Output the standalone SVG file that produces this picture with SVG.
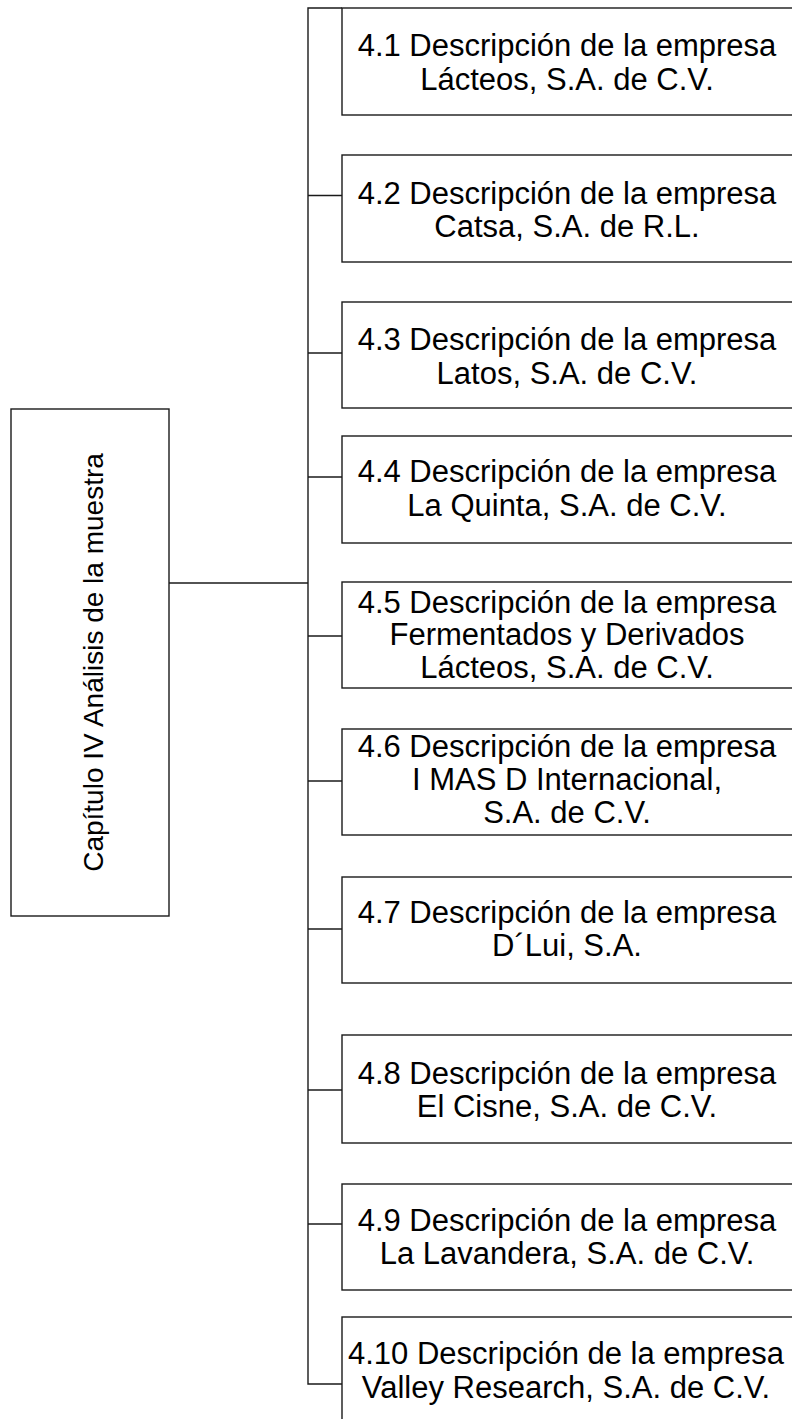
<svg xmlns="http://www.w3.org/2000/svg" width="792" height="1419" viewBox="0 0 792 1419">
<style>
.box{fill:#ffffff;stroke:#1a1a1a;stroke-width:1.4}
.ln{fill:none;stroke:#1a1a1a;stroke-width:1.4}
.t{font-family:"Liberation Sans",Arial,sans-serif;font-size:31px;fill:#000;text-anchor:middle}
.tm{font-family:"Liberation Sans",Arial,sans-serif;font-size:28px;fill:#000;text-anchor:middle}
</style>
<rect width="792" height="1419" fill="#ffffff"/>
<g id="connectors">
<path class="ln" d="M169,583 H308"/>
<path class="ln" d="M342,8 H308 V1384 H342"/>
<path class="ln" d="M308,195.5 H342"/>
<path class="ln" d="M308,353 H342"/>
<path class="ln" d="M308,477 H342"/>
<path class="ln" d="M308,636 H342"/>
<path class="ln" d="M308,781 H342"/>
<path class="ln" d="M308,929 H342"/>
<path class="ln" d="M308,1090 H342"/>
<path class="ln" d="M308,1224 H342"/>
</g>
<g id="main">
<rect class="box" x="11" y="409" width="158" height="507"/>
<text class="tm" transform="translate(103,662.5) rotate(-90)">Capítulo IV Análisis de la muestra</text>
</g>
<g id="n41">
<rect class="box" x="342" y="8" width="470" height="107"/>
<text class="t" x="567" y="56">4.1 Descripción de la empresa</text>
<text class="t" x="567" y="90">Lácteos, S.A. de C.V.</text>
</g>
<g id="n42">
<rect class="box" x="342" y="155" width="470" height="107"/>
<text class="t" x="567" y="204">4.2 Descripción de la empresa</text>
<text class="t" x="567" y="237">Catsa, S.A. de R.L.</text>
</g>
<g id="n43">
<rect class="box" x="342" y="302" width="470" height="106"/>
<text class="t" x="567" y="350">4.3 Descripción de la empresa</text>
<text class="t" x="567" y="384">Latos, S.A. de C.V.</text>
</g>
<g id="n44">
<rect class="box" x="342" y="436" width="470" height="107"/>
<text class="t" x="567" y="482">4.4 Descripción de la empresa</text>
<text class="t" x="567" y="516">La Quinta, S.A. de C.V.</text>
</g>
<g id="n45">
<rect class="box" x="342" y="582" width="470" height="106"/>
<text class="t" x="567" y="613">4.5 Descripción de la empresa</text>
<text class="t" x="567" y="645">Fermentados y Derivados</text>
<text class="t" x="567" y="678">Lácteos, S.A. de C.V.</text>
</g>
<g id="n46">
<rect class="box" x="342" y="729" width="470" height="106"/>
<text class="t" x="567" y="757">4.6 Descripción de la empresa</text>
<text class="t" x="567" y="790">I MAS D Internacional,</text>
<text class="t" x="567" y="823">S.A. de C.V.</text>
</g>
<g id="n47">
<rect class="box" x="342" y="877" width="470" height="106"/>
<text class="t" x="567" y="923">4.7 Descripción de la empresa</text>
<text class="t" x="567" y="956">D´Lui, S.A.</text>
</g>
<g id="n48">
<rect class="box" x="342" y="1035" width="470" height="108"/>
<text class="t" x="567" y="1084">4.8 Descripción de la empresa</text>
<text class="t" x="567" y="1117">El Cisne, S.A. de C.V.</text>
</g>
<g id="n49">
<rect class="box" x="342" y="1184" width="470" height="106"/>
<text class="t" x="567" y="1231">4.9 Descripción de la empresa</text>
<text class="t" x="567" y="1264">La Lavandera, S.A. de C.V.</text>
</g>
<g id="n410">
<rect class="box" x="342" y="1317" width="470" height="120"/>
<text class="t" x="566" y="1364">4.10 Descripción de la empresa</text>
<text class="t" x="566" y="1398">Valley Research, S.A. de C.V.</text>
</g>
</svg>
